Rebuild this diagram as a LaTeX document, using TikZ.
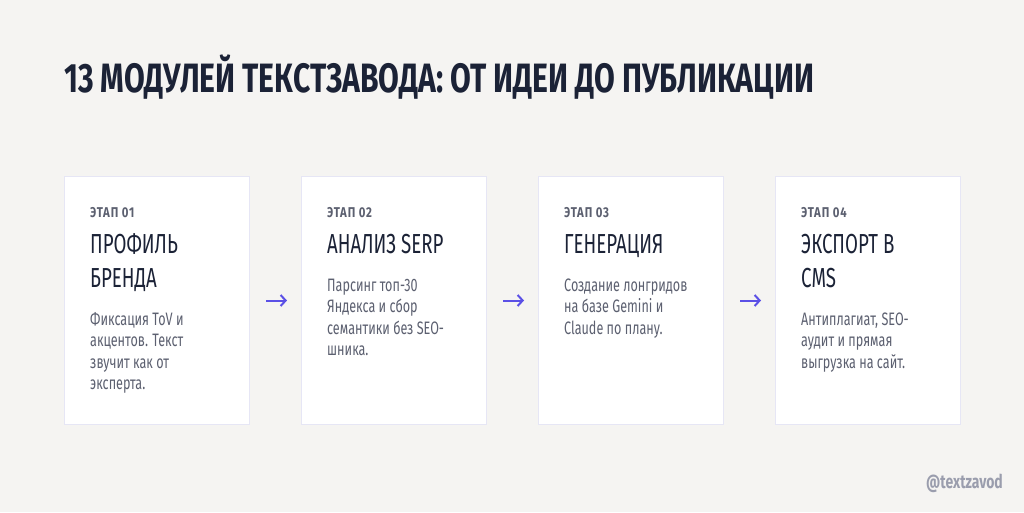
\documentclass[tikz,border=0pt]{standalone}
\usepackage{fontspec}
\usetikzlibrary{arrows.meta}
\setmainfont{Fira Sans}
\newfontfamily\condfont[FakeStretch=0.734]{Fira Sans}
\newfontfamily\headfont[FakeStretch=0.68]{Fira Sans}
\newfontfamily\bodyfont[FakeStretch=0.70]{Fira Sans}
\newfontfamily\condlabel[FakeStretch=0.8,LetterSpace=6]{Fira Sans}
\definecolor{bgc}{HTML}{F5F4F2}
\definecolor{navy}{HTML}{1B2236}
\definecolor{greyt}{HTML}{5C6070}
\definecolor{cardline}{HTML}{E6E6F5}
\definecolor{accent}{HTML}{5B50E6}
\definecolor{handlec}{HTML}{9A9DAD}
\tikzset{
  card/.style={draw=cardline, line width=1pt, fill=white, minimum width=185pt, minimum height=248pt, inner sep=0pt, anchor=north west},
  stage/.style={anchor=base west, inner sep=0pt, text=greyt, font=\condlabel\bfseries\fontsize{14.2}{16}\selectfont},
  head/.style={anchor=base west, inner sep=0pt, text=navy, align=left, font=\headfont\fontsize{27.5}{34}\selectfont},
  body/.style={anchor=base west, inner sep=0pt, text=greyt, align=left, font=\bodyfont\fontsize{18}{21.5}\selectfont},
  arr/.style={draw=accent, line width=2pt, -{Straight Barb[length=5pt,width=11pt]}, shorten <=16pt, shorten >=14pt}
}
\begin{document}
\begin{tikzpicture}[x=1pt,y=-1pt]
\fill[bgc] (0,0) rectangle (1024,512);
\useasboundingbox (0,0) rectangle (1024,512);
\node[anchor=base west, inner sep=0pt, text=navy, font=\condfont\bfseries\fontsize{41}{44}\selectfont] (title) at (64,92) {13 МОДУЛЕЙ ТЕКСТЗАВОДА: ОТ ИДЕИ ДО ПУБЛИКАЦИИ};

\node[card] (c1) at (64,176) {};
\node[card] (c2) at (301,176) {};
\node[card] (c3) at (538,176) {};
\node[card] (c4) at (775,176) {};

\node[stage] (s1) at (90,217) {ЭТАП 01};
\node[stage] (s2) at (327,217) {ЭТАП 02};
\node[stage] (s3) at (564,217) {ЭТАП 03};
\node[stage] (s4) at (801,217) {ЭТАП 04};

\node[head] (h1) at (90,287) {ПРОФИЛЬ\\БРЕНДА};
\node[head] (h2) at (327,253) {АНАЛИЗ SERP};
\node[head] (h3) at (564,253) {ГЕНЕРАЦИЯ};
\node[head] (h4) at (801,287) {ЭКСПОРТ В\\CMS};

\node[body] (b1) at (90,389.5) {Фиксация ToV и\\акцентов. Текст\\звучит как от\\эксперта.};
\node[body] (b2) at (327,355.5) {Парсинг топ-30\\Яндекса и сбор\\семантики без SEO-\\шника.};
\node[body] (b3) at (564,334) {Создание лонгридов\\на базе Gemini и\\Claude по плану.};
\node[body] (b4) at (801,368) {Антиплагиат, SEO-\\аудит и прямая\\выгрузка на сайт.};

\draw[arr] (c1.east) -- (c2.west);
\draw[arr] (c2.east) -- (c3.west);
\draw[arr] (c3.east) -- (c4.west);

\node[anchor=base east, inner sep=0pt, text=handlec, font=\condfont\bfseries\fontsize{19}{21}\selectfont] (handle) at (1003,488) {@textzavod};
\end{tikzpicture}
\end{document}
